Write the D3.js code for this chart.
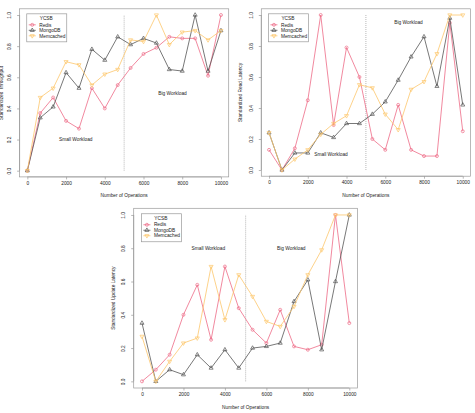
<!DOCTYPE html>
<html>
<head>
<meta charset="utf-8">
<script src="https://cdn.jsdelivr.net/npm/d3@7"></script>
<style>
  body { margin: 0; background: #fff; }
  text { font-family: "Liberation Sans", Arial, sans-serif; fill: #222; }
</style>
</head>
<body>
<div id="plot"></div>
<script>
// x values (number of operations)
const operations = [0, 667, 1333, 2000, 2667, 3333, 4000, 4667, 5333, 6000, 6667, 7333, 8000, 8667, 9333, 10000];
const xTicks = [0, 2000, 4000, 6000, 8000, 10000];
const yTicks = [0, 0.2, 0.4, 0.6, 0.8, 1.0];
const seriesNames = ["Redis", "MongoDB", "Memcached"];

// standardized throughput
const throughputRedis     = [0, 0.37, 0.47, 0.32, 0.27, 0.53, 0.40, 0.55, 0.66, 0.75, 0.79, 0.86, 0.85, 0.85, 0.61, 1.0];
const throughputMongo     = [0, 0.34, 0.41, 0.63, 0.53, 0.78, 0.71, 0.86, 0.81, 0.85, 0.82, 0.65, 0.64, 1.0, 0.64, 0.90];
const throughputMemcached = [0, 0.47, 0.53, 0.70, 0.68, 0.55, 0.62, 0.65, 0.84, 0.83, 1.0, 0.81, 0.89, 0.90, 0.84, 0.90];

// standardized read latency
const readRedis     = [0.13, 0, 0.14, 0.45, 1.0, 0.29, 0.79, 0.60, 0.20, 0.13, 0.42, 0.13, 0.09, 0.09, 0.95, 0.25];
const readMongo     = [0.24, 0, 0.11, 0.11, 0.24, 0.21, 0.30, 0.30, 0.36, 0.44, 0.58, 0.73, 0.86, 0.54, 0.98, 0.42];
const readMemcached = [0.24, 0, 0.07, 0.13, 0.23, 0.30, 0.35, 0.55, 0.53, 0.36, 0.26, 0.52, 0.57, 0.75, 1.0, 1.0];

// standardized update latency
const updateRedis     = [0, 0.07, 0.16, 0.40, 0.58, 0.25, 0.69, 0.44, 0.31, 0.23, 0.43, 0.21, 0.19, 0.22, 1.0, 0.35];
const updateMongo     = [0.35, 0, 0.07, 0.04, 0.16, 0.08, 0.19, 0.08, 0.20, 0.21, 0.23, 0.48, 0.61, 0.19, 0.60, 1.0];
const updateMemcached = [0.27, 0, 0.12, 0.23, 0.26, 0.69, 0.37, 0.64, 0.51, 0.36, 0.33, 0.45, 0.64, 0.79, 1.0, 1.0];

const colors = {Redis: "#ee6b86", MongoDB: "#555555", Memcached: "#fdc76c"};

const svg = d3.select("#plot").append("svg")
  .attr("width", 475).attr("height", 413);

const panels = [
  {box: [19.6, 228.7, 8.8, 176.9], ylab: "Standardized Throughput",
   series: [throughputRedis, throughputMongo, throughputMemcached],
   small: [2500, 0.2], big: [7500, 0.5]},
  {box: [261.3, 470.5, 8.8, 176.2], ylab: "Standardized Read Latency",
   series: [readRedis, readMongo, readMemcached],
   small: [3200, 0.1], big: [7200, 0.95]},
  {box: [133.7, 357.6, 208.3, 388], ylab: "Standardized Update Latency",
   series: [updateRedis, updateMongo, updateMemcached],
   small: [3200, 0.8], big: [7200, 0.8]}
];

function symbol(g, name, cx, cy) {
  if (name === "Redis") {
    g.append("circle").attr("cx", cx).attr("cy", cy).attr("r", 1.5)
      .attr("fill", "none").attr("stroke", colors[name]).attr("stroke-width", 0.7);
  } else if (name === "MongoDB") {
    g.append("path").attr("d", d3.symbol(d3.symbolTriangle, 7)())
      .attr("transform", `translate(${cx},${cy})`)
      .attr("fill", "none").attr("stroke", colors[name]).attr("stroke-width", 0.7);
  } else {
    g.append("path").attr("d", d3.symbol(d3.symbolTriangle, 7)())
      .attr("transform", `translate(${cx},${cy}) rotate(180)`)
      .attr("fill", "none").attr("stroke", colors[name]).attr("stroke-width", 0.7);
  }
}

panels.forEach(p => {
  const [l, r, t, b] = p.box;
  const x = d3.scaleLinear().domain([-400, 10400]).range([l, r]);
  const y = d3.scaleLinear().domain([-0.04, 1.04]).range([b, t]);
  const g = svg.append("g");

  // frame
  g.append("rect").attr("x", l).attr("y", t).attr("width", r - l).attr("height", b - t)
    .attr("fill", "none").attr("stroke", "#9a9a9a").attr("stroke-width", 0.7);

  // x axis
  const xa = g.append("g").attr("transform", `translate(0,${b})`)
    .call(d3.axisBottom(x).tickValues(xTicks).tickSize(2.5).tickPadding(2).tickFormat(d3.format("d")));
  xa.select(".domain").attr("d", `M${x(0)},0H${x(10000)}`).attr("stroke", "#9a9a9a").attr("stroke-width", 0.7);
  xa.selectAll(".tick line").attr("stroke", "#9a9a9a").attr("stroke-width", 0.7);
  xa.selectAll("text").attr("font-size", 4.8).attr("font-family", "Liberation Sans, Arial, sans-serif").attr("fill", "#222");

  // y axis, labels rotated like R
  const ya = g.append("g").attr("transform", `translate(${l},0)`)
    .call(d3.axisLeft(y).tickValues(yTicks).tickSize(2.5).tickFormat(d3.format(".1f")));
  ya.select(".domain").attr("d", `M0,${y(0)}V${y(1)}`).attr("stroke", "#9a9a9a").attr("stroke-width", 0.7);
  ya.selectAll(".tick line").attr("stroke", "#9a9a9a").attr("stroke-width", 0.7);
  ya.selectAll("text")
    .attr("x", 0).attr("dy", 0)
    .attr("transform", "translate(-8.5,0) rotate(-90)")
    .attr("text-anchor", "middle")
    .attr("font-size", 4.8).attr("font-family", "Liberation Sans, Arial, sans-serif").attr("fill", "#222");

  // axis titles
  g.append("text").attr("x", (l + r) / 2).attr("y", b + 20.5)
    .attr("text-anchor", "middle").attr("font-size", 4.8).text("Number of Operations");
  g.append("text")
    .attr("transform", `translate(${Math.max(l - 19, 3.2)},${(t + b) / 2}) rotate(-90)`)
    .attr("text-anchor", "middle").attr("font-size", 4.8).text(p.ylab);

  // split line at 5000
  g.append("line").attr("x1", x(5000)).attr("x2", x(5000)).attr("y1", y(0)).attr("y2", y(1))
    .attr("stroke", "#888").attr("stroke-width", 0.6).attr("stroke-dasharray", "1,1");

  g.append("text").attr("x", x(p.small[0])).attr("y", y(p.small[1]) + 1.7)
    .attr("text-anchor", "middle").attr("font-size", 4.8).text("Small Workload");
  g.append("text").attr("x", x(p.big[0])).attr("y", y(p.big[1]) + 1.7)
    .attr("text-anchor", "middle").attr("font-size", 4.8).text("Big Workload");

  // series
  const line = d3.line().x((d, i) => x(operations[i])).y(d => y(d));
  p.series.forEach((vals, k) => {
    const name = seriesNames[k];
    g.append("path").datum(vals).attr("d", line)
      .attr("fill", "none").attr("stroke", colors[name]).attr("stroke-width", 0.8);
    vals.forEach((v, i) => symbol(g, name, x(operations[i]), y(v)));
  });

  // legend
  const lx = x(0) - 0.6, ly = y(1) - 1.2;
  g.append("rect").attr("x", lx).attr("y", ly).attr("width", 40).attr("height", 28)
    .attr("fill", "#fff").attr("stroke", "#9a9a9a").attr("stroke-width", 0.7);
  g.append("text").attr("x", lx + 19.5).attr("y", ly + 6.3)
    .attr("text-anchor", "middle").attr("font-size", 4.8).text("YCSB");
  seriesNames.forEach((name, k) => {
    const yy = ly + 11 + k * 5.5;
    g.append("line").attr("x1", lx + 2).attr("x2", lx + 9).attr("y1", yy).attr("y2", yy)
      .attr("stroke", colors[name]).attr("stroke-width", 0.8);
    symbol(g, name, lx + 5.5, yy);
    g.append("text").attr("x", lx + 12.5).attr("y", yy + 1.7)
      .attr("font-size", 4.8).text(name);
  });
});
</script>
</body>
</html>
